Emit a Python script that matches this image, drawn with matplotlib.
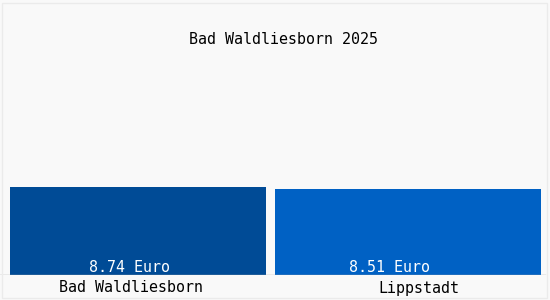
import matplotlib.pyplot as plt
from matplotlib.patches import Rectangle

orte = ["Bad Waldliesborn", "Lippstadt"]
werte = [8.74, 8.51]
beschriftung = ["8.74 Euro", "8.51 Euro"]
farben = ["#004b96", "#0061c4"]

plt.rcParams['font.family'] = ['DejaVu Sans Mono']

fig = plt.figure(figsize=(5.5, 3), dpi=100, facecolor="#f9f9f9")
ax = fig.add_axes([0, 25 / 300, 1, 275 / 300])
ax.set_facecolor("none")

x = range(len(orte))
ax.bar(x, werte, width=[0.948, 0.985], color=farben)
ax.set_xlim(-138 / 270, 412 / 270)
ax.set_ylim(0, 8.74 * 275 / 88)
ax.axis("off")
ax.axhline(0, xmin=0, xmax=545 / 550, color="#a8a8a8", lw=1)

# Beschriftungen im Balken und darunter
text_dx = [-8, -18]
label_dx = [-7, 11]
for i in x:
    ax.annotate(beschriftung[i], (i, 0), xytext=(text_dx[i], 7), textcoords="offset pixels",
                ha="center", va="center", color="white", fontsize=10.8)
    ax.annotate(orte[i], (i, 0), xytext=(label_dx[i], -13), textcoords="offset pixels",
                ha="center", va="center", color="black", fontsize=10.8)

fig.text(283.5 / 550, 1 - 40 / 300, "Bad Waldliesborn 2025", ha="center", va="center",
         fontsize=10.8, color="black")

fig.patches.append(Rectangle((2 / 550, 2 / 300), 545 / 550, 295 / 300, transform=fig.transFigure,
                             fill=False, edgecolor="#ebebeb", lw=1))

fig.savefig("out.png", dpi=100, facecolor=fig.get_facecolor())
